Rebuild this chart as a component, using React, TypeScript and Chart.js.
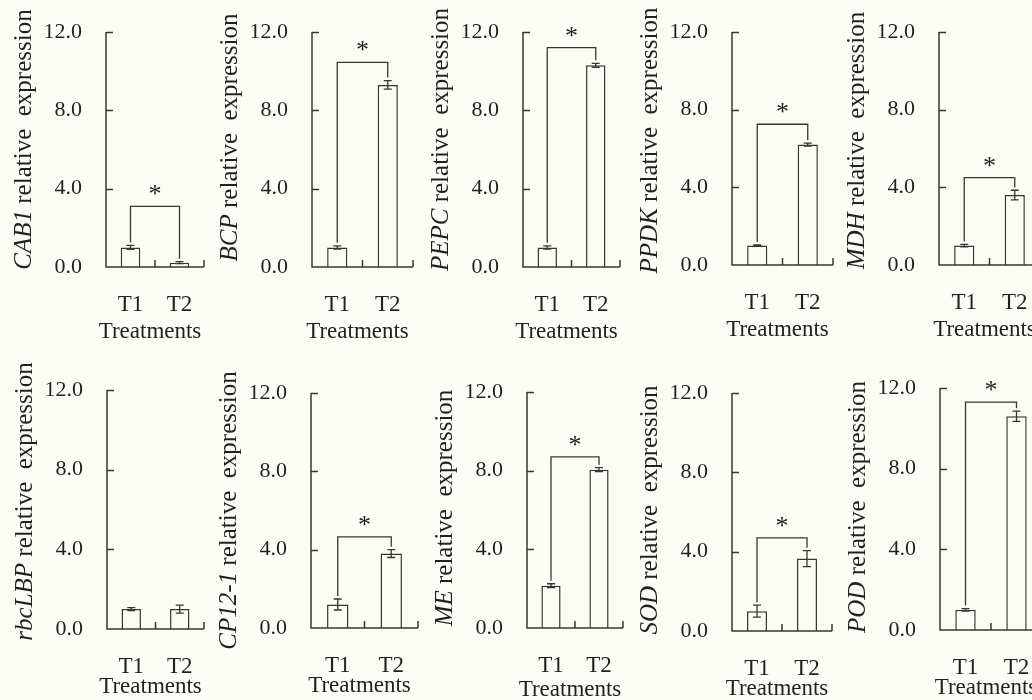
import React, { useEffect, useRef } from "react";
import { Chart, registerables } from "chart.js";

Chart.register(...registerables);

// ---------- data ----------
const GENES = ["CAB1", "BCP", "PEPC", "PPDK", "MDH", "rbcLBP", "CP12-1", "ME", "SOD", "POD"];
const TREATMENTS = ["T1", "T2"];
const T1_MEAN = [1.0, 1.0, 1.0, 1.0, 1.0, 1.0, 1.2, 2.15, 1.0, 1.0];
const T2_MEAN = [0.22, 9.3, 10.3, 6.2, 3.6, 1.0, 3.8, 8.05, 3.65, 10.6];
const T1_ERR = [0.1, 0.08, 0.08, 0.03, 0.06, 0.07, 0.28, 0.1, 0.3, 0.06];
const T2_ERR = [0.05, 0.22, 0.1, 0.08, 0.25, 0.2, 0.2, 0.1, 0.4, 0.25];
const BRACKET_LEVEL: (number | null)[] = [3.1, 10.45, 11.2, 7.25, 4.5, null, 4.65, 8.7, 4.7, 11.3];
const Y_TICKS = [0, 4, 8, 12];
const Y_MAX = 12;
const X_TITLE = "Treatments";
const Y_TITLE_REST = " relative  expression";

// ---------- layout / style ----------
const FONT = '"Liberation Serif", "Times New Roman", serif';
const INK = "#231f20";
const LINE = "#3a3432";
const BG = "#fcfcf7";

const PANELS = [
  { axisX: 106, rightX: 204, topY: 32, botY: 267, titleDy: -10, xh: 79, tDy: 65 },
  { axisX: 312, rightX: 413, topY: 32, botY: 267, titleDy: -12, xh: 79, tDy: 65 },
  { axisX: 523, rightX: 620, topY: 32, botY: 267, titleDy: -10, xh: 79, tDy: 65 },
  { axisX: 732, rightX: 833, topY: 32, botY: 265, titleDy: -8, xh: 79, tDy: 65 },
  { axisX: 939, rightX: 1040, topY: 32, botY: 265, titleDy: -8, xh: 79, tDy: 65 },
  { axisX: 107, rightX: 204, topY: 390, botY: 629, titleDy: -8, xh: 72, tDy: 58 },
  { axisX: 311, rightX: 418, topY: 393, botY: 628, titleDy: 0, xh: 72, tDy: 58 },
  { axisX: 527, rightX: 623, topY: 392, botY: 628, titleDy: -2, xh: 72, tDy: 62 },
  { axisX: 732, rightX: 832, topY: 393, botY: 631, titleDy: -2, xh: 72, tDy: 58 },
  { axisX: 940, rightX: 1042, topY: 388, botY: 630, titleDy: -2, xh: 72, tDy: 58 },
];

const PAD_L = 110;
const PAD_T = 40;
const PAD_R = 6;

function Panel({ index }: { index: number }) {
  const ref = useRef<HTMLCanvasElement | null>(null);
  const L = PANELS[index];
  const W = L.rightX - L.axisX + PAD_L + PAD_R;
  const H = L.botY - L.topY + PAD_T + L.xh;

  useEffect(() => {
    if (!ref.current) return;
    const means = [T1_MEAN[index], T2_MEAN[index]];
    const errs = [T1_ERR[index], T2_ERR[index]];
    const level = BRACKET_LEVEL[index];

    const decor = {
      id: "decor" + index,
      afterDraw(chart: any) {
        const ctx = chart.ctx as CanvasRenderingContext2D;
        const { left, right, top, bottom } = chart.chartArea;
        const xs = chart.scales.x;
        const ys = chart.scales.y;
        ctx.save();
        ctx.strokeStyle = LINE;
        ctx.lineWidth = 1.5;
        ctx.lineCap = "butt";
        // axes
        ctx.beginPath();
        ctx.moveTo(left, ys.getPixelForValue(Y_MAX));
        ctx.lineTo(left, bottom);
        ctx.lineTo(right, bottom);
        ctx.stroke();
        // y ticks (inward)
        ctx.beginPath();
        Y_TICKS.forEach((v) => {
          if (v === 0) return;
          const py = Math.round(ys.getPixelForValue(v)) + 0.5;
          ctx.moveTo(left, py);
          ctx.lineTo(left + 7, py);
        });
        // x ticks (up) at category boundaries
        for (let i = 0; i < TREATMENTS.length; i++) {
          const px = xs.getPixelForValue(i + 0.5);
          ctx.moveTo(px, bottom);
          ctx.lineTo(px, bottom - 7);
        }
        ctx.stroke();
        // error bars
        ctx.lineWidth = 1.3;
        ctx.beginPath();
        means.forEach((m, i) => {
          const cx = xs.getPixelForValue(i);
          const yt = ys.getPixelForValue(m + errs[i]);
          const yb = ys.getPixelForValue(Math.max(0, m - errs[i]));
          ctx.moveTo(cx, yt);
          ctx.lineTo(cx, yb);
          ctx.moveTo(cx - 4, yt);
          ctx.lineTo(cx + 4, yt);
          ctx.moveTo(cx - 4, yb);
          ctx.lineTo(cx + 4, yb);
        });
        ctx.stroke();
        // significance bracket
        if (level !== null && level !== undefined) {
          const by = ys.getPixelForValue(level);
          const x1 = xs.getPixelForValue(0);
          const x2 = xs.getPixelForValue(1);
          const e1 = ys.getPixelForValue(means[0] + errs[0]) - 3;
          const e2 = ys.getPixelForValue(means[1] + errs[1]) - 3;
          ctx.beginPath();
          ctx.moveTo(x1, e1);
          ctx.lineTo(x1, by);
          ctx.lineTo(x2, by);
          ctx.lineTo(x2, e2);
          ctx.stroke();
          ctx.fillStyle = INK;
          ctx.font = `26px ${FONT}`;
          ctx.textAlign = "center";
          ctx.textBaseline = "alphabetic";
          ctx.fillText("*", (x1 + x2) / 2, by - 4);
        }
        // x title
        ctx.fillStyle = INK;
        ctx.font = `23px ${FONT}`;
        ctx.textAlign = "center";
        ctx.textBaseline = "middle";
        ctx.fillText(X_TITLE, (left + right) / 2 - 5, bottom + L.tDy);
        // y title (italic gene + plain rest), rotated
        const fItal = `italic 25px ${FONT}`;
        const fNorm = `25px ${FONT}`;
        ctx.font = fItal;
        const wg = ctx.measureText(GENES[index]).width;
        ctx.font = fNorm;
        const wr = ctx.measureText(Y_TITLE_REST).width;
        const total = wg + wr;
        ctx.translate(left - 82, (top + bottom) / 2 + L.titleDy);
        ctx.rotate(-Math.PI / 2);
        ctx.textAlign = "left";
        ctx.textBaseline = "middle";
        ctx.font = fItal;
        ctx.fillText(GENES[index], -total / 2, 0);
        ctx.font = fNorm;
        ctx.fillText(Y_TITLE_REST, -total / 2 + wg, 0);
        ctx.restore();
      },
    };

    const chart = new Chart(ref.current, {
      type: "bar",
      data: {
        labels: TREATMENTS,
        datasets: [
          {
            data: means,
            backgroundColor: BG,
            borderColor: LINE,
            borderWidth: 1.5,
            barPercentage: 0.4,
            categoryPercentage: 1,
          },
        ],
      },
      options: {
        responsive: false,
        animation: false,
        devicePixelRatio: 1,
        layout: { padding: { top: PAD_T, right: PAD_R, left: 0, bottom: 0 } },
        plugins: { legend: { display: false }, tooltip: { enabled: false } },
        scales: {
          x: {
            grid: { display: false, drawTicks: true, tickLength: 24 },
            border: { display: false },
            ticks: { font: { family: FONT, size: 23 }, color: INK, padding: 0 },
            afterFit: (s: any) => {
              s.height = L.xh;
            },
          },
          y: {
            min: 0,
            max: Y_MAX,
            afterBuildTicks: (s: any) => {
              s.ticks = Y_TICKS.map((v) => ({ value: v }));
            },
            grid: { display: false, drawTicks: true, tickLength: 24 },
            border: { display: false },
            ticks: {
              font: { family: FONT, size: 22 },
              color: INK,
              padding: 0,
              callback: (v: any) => Number(v).toFixed(1),
            },
            afterFit: (s: any) => {
              s.width = PAD_L;
            },
          },
        },
      } as any,
      plugins: [decor],
    });
    return () => chart.destroy();
  }, [index]);

  return (
    <canvas
      ref={ref}
      width={W}
      height={H}
      style={{ position: "absolute", left: L.axisX - PAD_L, top: L.topY - PAD_T, width: W, height: H }}
    />
  );
}

export default function App() {
  return (
    <div
      style={{
        position: "absolute",
        left: 0,
        top: 0,
        width: 1032,
        height: 700,
        overflow: "hidden",
        background: BG,
      }}
    >
      {GENES.map((g, i) => (
        <Panel key={g} index={i} />
      ))}
    </div>
  );
}
